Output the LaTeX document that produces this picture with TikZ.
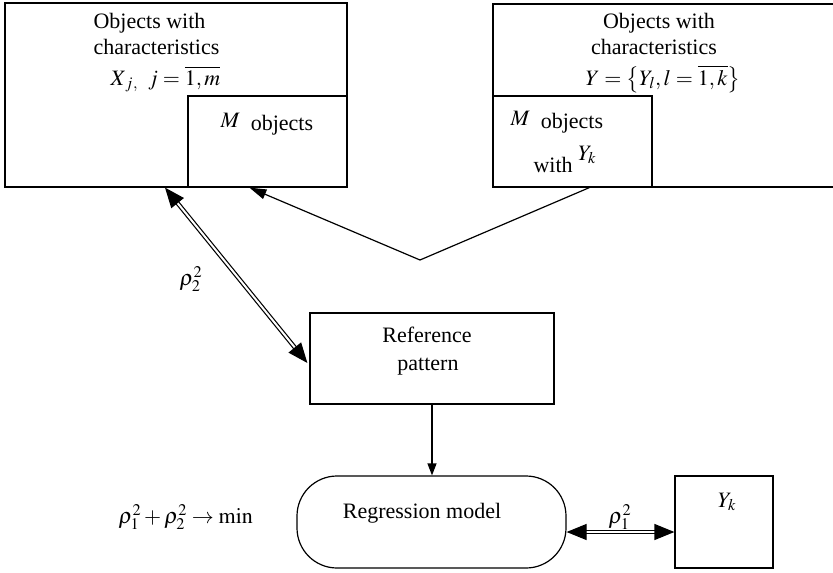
\documentclass[tikz,border=0pt]{standalone}
\usepackage{mathptmx}
\usepackage{fontspec}
\setmainfont{Liberation Serif}
\usetikzlibrary{arrows.meta, calc}

\begin{document}
\begin{tikzpicture}[x=1pt, y=-1pt, line width=1.2pt,
    txt/.style={font=\fontsize{22}{26}\selectfont, inner sep=0pt},
    box/.style={draw, inner sep=0pt},
    dline/.style={double, double distance=2pt, line width=1.2pt, shorten <=15pt, shorten >=15pt},
    dtip/.style={-{Triangle[length=20pt,width=16pt]}},
    sgl/.style={-{Triangle[length=17pt,width=10pt]}}]
  \useasboundingbox (0,0) rectangle (833,573);
  % upper boxes
  \node[box, minimum width=342pt, minimum height=184pt] (objX) at (176,95) {};
  \node[box, minimum width=159pt, minimum height=91pt] (mX) at (267.5,141.5) {};
  \node[box, minimum width=347pt, minimum height=183pt] (objY) at (666.5,95.5) {};
  \node[box, minimum width=159pt, minimum height=91pt] (mY) at (572.5,141.5) {};
  \node[txt, anchor=base west] (tX1) at (93,28) {Objects with};
  \node[txt, anchor=base west] (tX2) at (93,54) {characteristics};
  \node[txt, anchor=base west] (tX3) at (110,85) {$X_{\,j}{}_{,}\;\;j=\overline{1,m}$};
  \node[txt, anchor=base] (tY1) at (659,28) {Objects with};
  \node[txt, anchor=base] (tY2) at (654,54) {characteristics};
  \node[txt, anchor=base] (tY3) at (663,85) {$Y=\bigl\{Y_l, l=\overline{1,k}\bigr\}$};
  \node[txt, anchor=base west] (tM1) at (220,127) {$M$\enspace\raisebox{-3pt}{objects}};
  \node[txt, anchor=base west] (tM2) at (510,125) {$M$\enspace\raisebox{-3pt}{objects}};
  \node[txt, anchor=base west] (tM3) at (533,172) {with \raisebox{12pt}{$Y_k$}};
  % lower boxes
  \node[box, minimum width=244pt, minimum height=91pt] (refpat) at (432,358.5) {};
  \node[txt, anchor=base] (tR1) at (427,342) {Reference};
  \node[txt, anchor=base] (tR2) at (428,370) {pattern};
  \node[box, rounded corners=40pt, minimum width=269pt, minimum height=92pt] (regr) at (431.5,522) {};
  \node[txt, anchor=base] (tRg) at (422,518) {Regression model};
  \node[box, minimum width=98pt, minimum height=92pt] (yk) at (724,522) {};
  \node[txt, anchor=base] (tYk) at (727,507) {$Y_k$};
  \node[txt, anchor=base] (rho1) at (620,523) {$\rho_1^2$};
  \node[txt, anchor=base] (rho2) at (191,285) {$\rho_2^2$};
  \node[txt, anchor=base west] (crit) at (118,523) {$\rho_1^2+\rho_2^2\to\min$};
  % connectors
  \coordinate (vtx) at (420,260);
  \coordinate (d1) at ($(objX.south)+(-11,0)$);
  \coordinate (d2) at ($(refpat.west)+(-2,4.5)$);
  \coordinate (d3) at ($(regr.east)+(0,10)$);
  \coordinate (d4) at ($(yk.west)+(0,10)$);
  \draw[dline] (d1) -- (d2);
  \draw[dtip] ($(d1)!18pt!(d2)$) -- (d1);
  \draw[dtip] ($(d2)!18pt!(d1)$) -- (d2);
  \draw[dline] (d3) -- (d4);
  \draw[dtip] ($(d3)!18pt!(d4)$) -- (d3);
  \draw[dtip] ($(d4)!18pt!(d3)$) -- (d4);
  \draw[sgl] ($(mY.south west)+(97,0)$) -- (vtx) -- ($(mX.south west)+(62,0)$);
  \draw[-{Triangle[length=12pt,width=9pt]}] (refpat.south) -- (refpat.south |- regr.north);
\end{tikzpicture}
\end{document}
